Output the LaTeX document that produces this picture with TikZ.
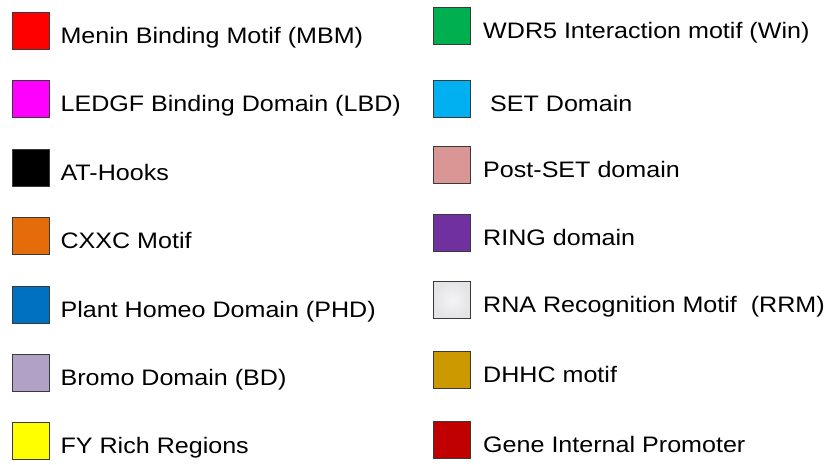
\documentclass[tikz,border=0pt]{standalone}
\usepackage{fontspec}
\setmainfont{Liberation Sans}
\definecolor{cMBM}{HTML}{FF0000}
\definecolor{cLBD}{HTML}{FF00FF}
\definecolor{cAT}{HTML}{000000}
\definecolor{cCXXC}{HTML}{E46C0A}
\definecolor{cPHD}{HTML}{0070C0}
\definecolor{cBD}{HTML}{B2A1C7}
\definecolor{cFY}{HTML}{FFFF00}
\definecolor{cWin}{HTML}{00B050}
\definecolor{cSET}{HTML}{00B0F0}
\definecolor{cPost}{HTML}{D99694}
\definecolor{cRING}{HTML}{7030A0}
\definecolor{cDHHC}{HTML}{CC9900}
\definecolor{cGIP}{HTML}{C00000}
\definecolor{cBorder}{HTML}{3A3A3A}
\definecolor{cRRMa}{HTML}{E4E4E6}
\definecolor{cRRMb}{HTML}{F4F4F5}
\begin{document}
\begin{tikzpicture}[x=1pt,y=-1pt,
  sq/.style={draw=cBorder, line width=1.2pt, minimum size=37pt, inner sep=0pt, outer sep=0pt},
  lbl/.style={anchor=base west, inner sep=0pt, font=\fontsize{22.4}{26}\selectfont}]
\useasboundingbox (0,0) rectangle (830,465);
% left column
\node[sq, fill=cMBM]  (s1) at (31,31) {};
\node[lbl] (t1) at (60.4,43.3) {\scalebox{1.12}[1]{Menin Binding Motif (MBM)}};
\node[sq, fill=cLBD]  (s2) at (31,99) {};
\node[lbl] (t2) at (60.4,111.3) {\scalebox{1.12}[1]{LEDGF Binding Domain (LBD)}};
\node[sq, fill=cAT]   (s3) at (31,168) {};
\node[lbl] (t3) at (60.4,180.3) {\scalebox{1.12}[1]{AT-Hooks}};
\node[sq, fill=cCXXC] (s4) at (31,236) {};
\node[lbl] (t4) at (60.4,248.3) {\scalebox{1.12}[1]{CXXC Motif}};
\node[sq, fill=cPHD]  (s5) at (31,305) {};
\node[lbl] (t5) at (60.4,317.3) {\scalebox{1.12}[1]{Plant Homeo Domain (PHD)}};
\node[sq, fill=cBD]   (s6) at (31,373) {};
\node[lbl] (t6) at (60.4,385.3) {\scalebox{1.12}[1]{Bromo Domain (BD)}};
\node[sq, fill=cFY]   (s7) at (31,441) {};
\node[lbl] (t7) at (60.4,453.3) {\scalebox{1.12}[1]{FY Rich Regions}};
% right column
\node[sq, fill=cWin]  (r1) at (452,26) {};
\node[lbl] (u1) at (483,38.3) {\scalebox{1.12}[1]{WDR5 Interaction motif (Win)}};
\node[sq, fill=cSET]  (r2) at (452,99) {};
\node[lbl] (u2) at (483,111.3) {\scalebox{1.12}[1]{\ SET Domain}};
\node[sq, fill=cPost] (r3) at (452,165) {};
\node[lbl] (u3) at (483,177.3) {\scalebox{1.12}[1]{Post-SET domain}};
\node[sq, fill=cRING] (r4) at (452,233) {};
\node[lbl] (u4) at (483,245.3) {\scalebox{1.12}[1]{RING domain}};
\node[sq, inner color=cRRMb, outer color=cRRMa] (r5) at (452,300) {};
\node[lbl] (u5) at (483,312.3) {\scalebox{1.12}[1]{RNA Recognition Motif\ \ (RRM)}};
\node[sq, fill=cDHHC] (r6) at (452,370) {};
\node[lbl] (u6) at (483,382.3) {\scalebox{1.12}[1]{DHHC motif}};
\node[sq, fill=cGIP]  (r7) at (452,440) {};
\node[lbl] (u7) at (483,452.3) {\scalebox{1.12}[1]{Gene Internal Promoter}};
\end{tikzpicture}
\end{document}
